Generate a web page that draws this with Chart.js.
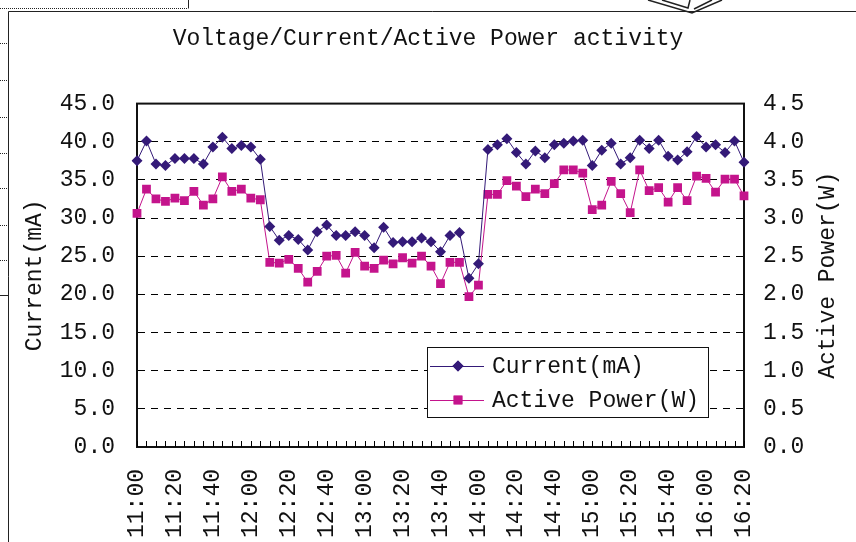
<!DOCTYPE html>
<html>
<head>
<meta charset="utf-8">
<title>Voltage/Current/Active Power activity</title>
<script src="https://cdn.jsdelivr.net/npm/chart.js@4/dist/chart.umd.min.js"></script>
<style>
  html, body { margin: 0; padding: 0; background: #fff; }
  #wrap { width: 856px; height: 542px; position: relative; }
</style>
</head>
<body>
<div id="wrap"><canvas id="myChart" width="856" height="542"></canvas></div>
<script>
// time axis, one reading every 5 minutes
const times = [
  '11:00','11:05','11:10','11:15','11:20','11:25','11:30','11:35','11:40','11:45','11:50','11:55',
  '12:00','12:05','12:10','12:15','12:20','12:25','12:30','12:35','12:40','12:45','12:50','12:55',
  '13:00','13:05','13:10','13:15','13:20','13:25','13:30','13:35','13:40','13:45','13:50','13:55',
  '14:00','14:05','14:10','14:15','14:20','14:25','14:30','14:35','14:40','14:45','14:50','14:55',
  '15:00','15:05','15:10','15:15','15:20','15:25','15:30','15:35','15:40','15:45','15:50','15:55',
  '16:00','16:05','16:10','16:15','16:20'
];

// Current (mA), left axis
const currentMA = [
  37.5, 40.1, 37.1, 36.9, 37.8, 37.8, 37.8, 37.1, 39.3, 40.6, 39.1, 39.5,
  39.3, 37.7, 28.9, 27.1, 27.7, 27.2, 25.8, 28.2, 29.1, 27.7, 27.7, 28.2,
  27.7, 26.1, 28.8, 26.8, 26.9, 26.9, 27.4, 26.9, 25.6, 27.7, 28.1, 22.1,
  24.0, 39.0, 39.6, 40.4, 38.6, 37.1, 38.8, 37.9, 39.6, 39.8, 40.1, 40.2,
  36.9, 38.9, 39.8, 37.1, 37.9, 40.2, 39.1, 40.2, 38.1, 37.6, 38.7, 40.7,
  39.3, 39.6, 38.6, 40.1, 37.3
];

// Active power (W), right axis
const powerW = [
  3.06, 3.38, 3.25, 3.22, 3.26, 3.23, 3.35, 3.17, 3.25, 3.54, 3.35, 3.38,
  3.26, 3.24, 2.42, 2.41, 2.46, 2.34, 2.16, 2.30, 2.50, 2.51, 2.28, 2.55,
  2.37, 2.34, 2.45, 2.40, 2.48, 2.41, 2.50, 2.37, 2.14, 2.42, 2.42, 1.97,
  2.12, 3.31, 3.31, 3.49, 3.42, 3.28, 3.38, 3.32, 3.45, 3.63, 3.63, 3.59,
  3.11, 3.17, 3.48, 3.32, 3.07, 3.63, 3.36, 3.40, 3.21, 3.40, 3.23, 3.55,
  3.52, 3.34, 3.51, 3.51, 3.29
];

const labelEvery = 4; // a label every 20 minutes
const leftMax = 45, leftStep = 5;
const rightMax = 4.5, rightStep = 0.5;

const FONT = "'Liberation Mono', 'DejaVu Sans Mono', monospace";
const currentColor = '#341a78';
const powerColor = '#c4148c';

// frame, inward minor ticks on the x axis, the odd page bits around the chart
const framePlugin = {
  id: 'frame',
  beforeDraw(chart) {
    const ctx = chart.ctx;
    ctx.save();
    ctx.fillStyle = '#fff';
    ctx.fillRect(0, 0, chart.width, chart.height);
    ctx.strokeStyle = '#222';
    ctx.lineWidth = 1;
    // outer object frame
    ctx.beginPath();
    ctx.moveTo(8.5, 542); ctx.lineTo(8.5, 11.5); ctx.lineTo(856, 11.5);
    ctx.stroke();
    // little box top left
    ctx.beginPath();
    ctx.moveTo(188.5, 0); ctx.lineTo(188.5, 8.5);
    ctx.stroke();
    ctx.setLineDash([1, 1]);
    ctx.beginPath();
    ctx.moveTo(0, 8.5); ctx.lineTo(188, 8.5);
    [43, 80, 117, 153, 188, 225, 260].forEach(y => { ctx.moveTo(0, y + 0.5); ctx.lineTo(8, y + 0.5); });
    ctx.stroke();
    ctx.setLineDash([]);
    ctx.beginPath();
    ctx.moveTo(0, 295.5); ctx.lineTo(8, 295.5);
    ctx.stroke();
    // shape peeking in at the top right
    ctx.lineWidth = 1.5;
    ctx.beginPath();
    ctx.moveTo(648, 0); ctx.lineTo(692, 13); ctx.lineTo(722, 0);
    ctx.moveTo(662, 0); ctx.lineTo(688, 8); ctx.lineTo(690, 0);
    ctx.moveTo(694, 9); ctx.lineTo(712, 0);
    ctx.stroke();
    ctx.restore();
  },
  beforeDatasetsDraw(chart) {
    const {ctx, chartArea: a} = chart;
    ctx.save();
    ctx.strokeStyle = '#111';
    ctx.lineWidth = 2;
    ctx.strokeRect(a.left, a.top, a.right - a.left, a.bottom - a.top);
    ctx.restore();
  },
  afterDatasetsDraw(chart) {
    // small tick at every reading, pointing up into the plot
    const {ctx, chartArea: a, scales: {x}} = chart;
    ctx.save();
    ctx.strokeStyle = '#000';
    ctx.lineWidth = 1;
    ctx.beginPath();
    for (let i = 0; i < times.length; i++) {
      const px = Math.round(x.getPixelForValue(i)) + 0.5;
      ctx.moveTo(px, a.bottom);
      ctx.lineTo(px, a.bottom - 6);
    }
    ctx.stroke();
    ctx.restore();
  },
  afterDraw(chart) {
    const ctx = chart.ctx;
    ctx.save();
    // right axis title reads bottom to top
    ctx.font = '23px ' + FONT;
    ctx.fillStyle = '#111';
    ctx.textAlign = 'center';
    ctx.textBaseline = 'middle';
    ctx.translate(828, (chart.chartArea.top + chart.chartArea.bottom) / 2);
    ctx.rotate(-Math.PI / 2);
    ctx.fillText('Active Power(W)', 0, 0);
    ctx.restore();

    // legend box inside the plot
    ctx.save();
    const bx = 427.5, by = 347.5, bw = 281, bh = 70;
    ctx.fillStyle = '#fff';
    ctx.fillRect(bx, by, bw, bh);
    ctx.strokeStyle = '#111';
    ctx.lineWidth = 1;
    ctx.strokeRect(bx, by, bw, bh);
    const rows = [
      {text: 'Current(mA)', color: currentColor, style: 'rectRot', r: 5.5, y: 366},
      {text: 'Active Power(W)', color: powerColor, style: 'rect', r: 6.2, y: 400}
    ];
    rows.forEach(row => {
      ctx.strokeStyle = row.color;
      ctx.lineWidth = 1;
      ctx.beginPath();
      ctx.moveTo(430, row.y + 0.5);
      ctx.lineTo(484, row.y + 0.5);
      ctx.stroke();
      ctx.fillStyle = row.color;
      Chart.helpers.drawPoint(ctx, {pointStyle: row.style, radius: row.r, borderWidth: 0}, 458, row.y);
      ctx.fill();
      ctx.fillStyle = '#111';
      ctx.font = '23px ' + FONT;
      ctx.textAlign = 'left';
      ctx.textBaseline = 'middle';
      ctx.fillText(row.text, 492, row.y + 1);
    });
    ctx.restore();
  }
};

const ctx = document.getElementById('myChart').getContext('2d');
const myChart = new Chart(ctx, {
  type: 'line',
  data: {
    labels: times,
    datasets: [
      {
        label: 'Current(mA)',
        data: currentMA,
        yAxisID: 'y',
        borderColor: currentColor,
        backgroundColor: currentColor,
        borderWidth: 1,
        pointStyle: 'rectRot',
        pointRadius: 5.5,
        pointBorderWidth: 0,
        tension: 0,
      },
      {
        label: 'Active Power(W)',
        data: powerW,
        yAxisID: 'y1',
        borderColor: powerColor,
        backgroundColor: powerColor,
        borderWidth: 1,
        pointStyle: 'rect',
        pointRadius: 6.2,
        pointBorderWidth: 0,
        tension: 0,
      },
    ],
  },
  options: {
    responsive: false,
    animation: false,
    devicePixelRatio: 1,
    layout: { padding: 0 },
    plugins: {
      legend: { display: false },
      tooltip: { enabled: false },
      title: {
        display: true,
        text: 'Voltage/Current/Active Power activity',
        color: '#111',
        font: { family: FONT, size: 23, weight: 'normal', lineHeight: 1.2 },
        padding: { top: 25, bottom: 51 },
      },
    },
    scales: {
      x: {
        type: 'category',
        offset: false,
        grid: { display: false, drawTicks: false },
        border: { display: true, color: '#111', width: 2 },
        ticks: {
          autoSkip: false,
          maxRotation: 90,
          minRotation: 90,
          padding: 22,
          color: '#111',
          font: { family: FONT, size: 23 },
          callback: function (value, index) {
            return index % labelEvery === 0 ? times[index] : '';
          },
        },
        afterFit: function (scale) { scale.height = 95; },
      },
      y: {
        position: 'left',
        min: 0,
        max: leftMax,
        grid: { color: '#000', lineWidth: 1, drawTicks: false },
        border: { display: true, color: '#111', width: 2, dash: [7, 6] },
        ticks: {
          stepSize: leftStep,
          padding: 22,
          color: '#111',
          font: { family: FONT, size: 23 },
          callback: (v) => v.toFixed(1),
        },
        title: {
          display: true,
          text: 'Current(mA)',
          color: '#111',
          font: { family: FONT, size: 23, lineHeight: 1.2 },
          padding: { top: 21, bottom: 0 },
        },
        afterFit: function (scale) { scale.width = 137; },
      },
      y1: {
        position: 'right',
        min: 0,
        max: rightMax,
        grid: { display: false, drawTicks: false },
        border: { display: true, color: '#111', width: 2 },
        ticks: {
          stepSize: rightStep,
          padding: 19,
          color: '#111',
          font: { family: FONT, size: 23 },
          callback: (v) => v.toFixed(1),
        },
        afterFit: function (scale) { scale.width = 112; },
      },
    },
  },
  plugins: [framePlugin],
});
</script>
</body>
</html>
